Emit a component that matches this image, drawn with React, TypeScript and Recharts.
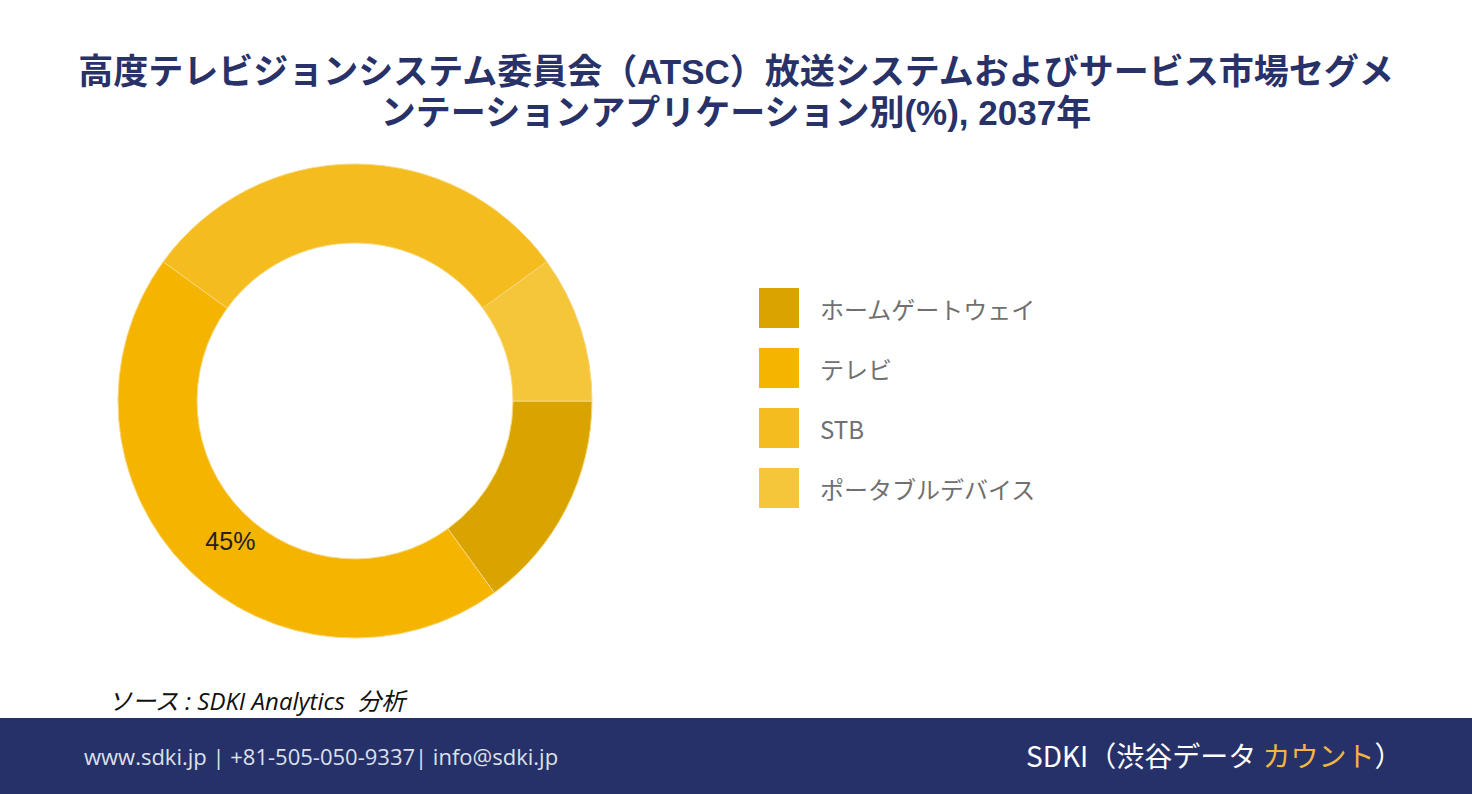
import React from 'react';
import { PieChart, Pie, Cell, Legend } from 'recharts';

const categories = ['ホームゲートウェイ', 'テレビ', 'STB', 'ポータブルデバイス'];
const shares = [15, 45, 30, 10];
const colors = ['#DAA400', '#F4B400', '#F4BC1F', '#F5C53A'];

const data = categories.map((name, i) => ({ name, value: shares[i], color: colors[i] }));

const RAD = Math.PI / 180;

const renderLabel = (props: any) => {
  const { cx, cy, midAngle, innerRadius, outerRadius, value } = props;
  if (value < 40) return null;
  const r = (innerRadius + outerRadius) / 2;
  const x = cx + r * Math.cos(-midAngle * RAD);
  const y = cy + r * Math.sin(-midAngle * RAD);
  return (
    <text x={x + 15} y={y} fill="#222" fontSize={25} fontFamily="Liberation Sans, Arial" textAnchor="middle" dominantBaseline="central">
      {value}%
    </text>
  );
};

const renderLegend = () => (
  <div>
    {data.map((d) => (
      <div key={d.name} style={{ display: 'flex', alignItems: 'center', height: 60 }}>
        <div style={{ width: 40, height: 40, backgroundColor: d.color }} />
        <span style={{ marginLeft: 21, fontSize: 24, color: '#707070', fontFamily: 'Noto Sans CJK JP' }}>{d.name}</span>
      </div>
    ))}
  </div>
);

// Liberation Sans first keeps the line box tight; the kana fall back to Noto Sans CJK JP
const titleStyle: React.CSSProperties = {
  position: 'absolute',
  left: 0,
  width: 1472,
  textAlign: 'center',
  color: '#283269',
  fontWeight: 700,
  fontSize: 35,
  lineHeight: '36px',
  whiteSpace: 'nowrap',
  fontFamily: '"Liberation Sans", "Noto Sans CJK JP"',
};

export default function App() {
  return (
    <div style={{ position: 'absolute', left: 0, top: 0, width: 1472, height: 794, background: '#fff', overflow: 'hidden', fontFamily: 'Noto Sans CJK JP' }}>
      <div style={{ ...titleStyle, top: 54 }}>
        高度テレビジョンシステム委員会（ATSC）放送システムおよびサービス市場セグメ
      </div>
      <div style={{ ...titleStyle, top: 95 }}>
        ンテーションアプリケーション別(%), 2037年
      </div>
      <div style={{ position: 'absolute', left: 0, top: 140 }}>
        <PieChart width={1200} height={540}>
          <Pie
            data={data}
            dataKey="value"
            nameKey="name"
            cx={350}
            cy={256}
            innerRadius={158}
            outerRadius={237}
            startAngle={0}
            endAngle={-360}
            stroke="#F7D77A"
            strokeWidth={1}
            label={renderLabel}
            labelLine={false}
            isAnimationActive={false}
          >
            {data.map((entry, index) => (
              <Cell key={`cell-${index}`} fill={entry.color} />
            ))}
          </Pie>
          <Legend
            content={renderLegend}
            layout="vertical"
            wrapperStyle={{ position: 'absolute', left: 759, top: 138, width: 400 }}
          />
        </PieChart>
      </div>
      <div style={{ position: 'absolute', left: 108, top: 682, fontSize: 24, fontStyle: 'italic', color: '#111', fontFamily: 'Open Sans, Noto Sans CJK JP', whiteSpace: 'pre' }}>
        {'ソース : SDKI Analytics  分析'}
      </div>
      <div style={{ position: 'absolute', left: 0, top: 718, width: 1472, height: 76, background: '#263169' }}>
        <div style={{ position: 'absolute', left: 84, top: 23, fontSize: 22, color: '#DDE0EA', fontFamily: 'Open Sans' }}>
          www.sdki.jp | +81-505-050-9337| info@sdki.jp
        </div>
        <div style={{ position: 'absolute', left: 1026, top: 17, fontSize: 28, color: '#FFFFFF', fontFamily: 'Noto Sans CJK JP' }}>
          SDKI（渋谷データ <span style={{ color: '#F2B540' }}>カウント</span>）
        </div>
      </div>
    </div>
  );
}
